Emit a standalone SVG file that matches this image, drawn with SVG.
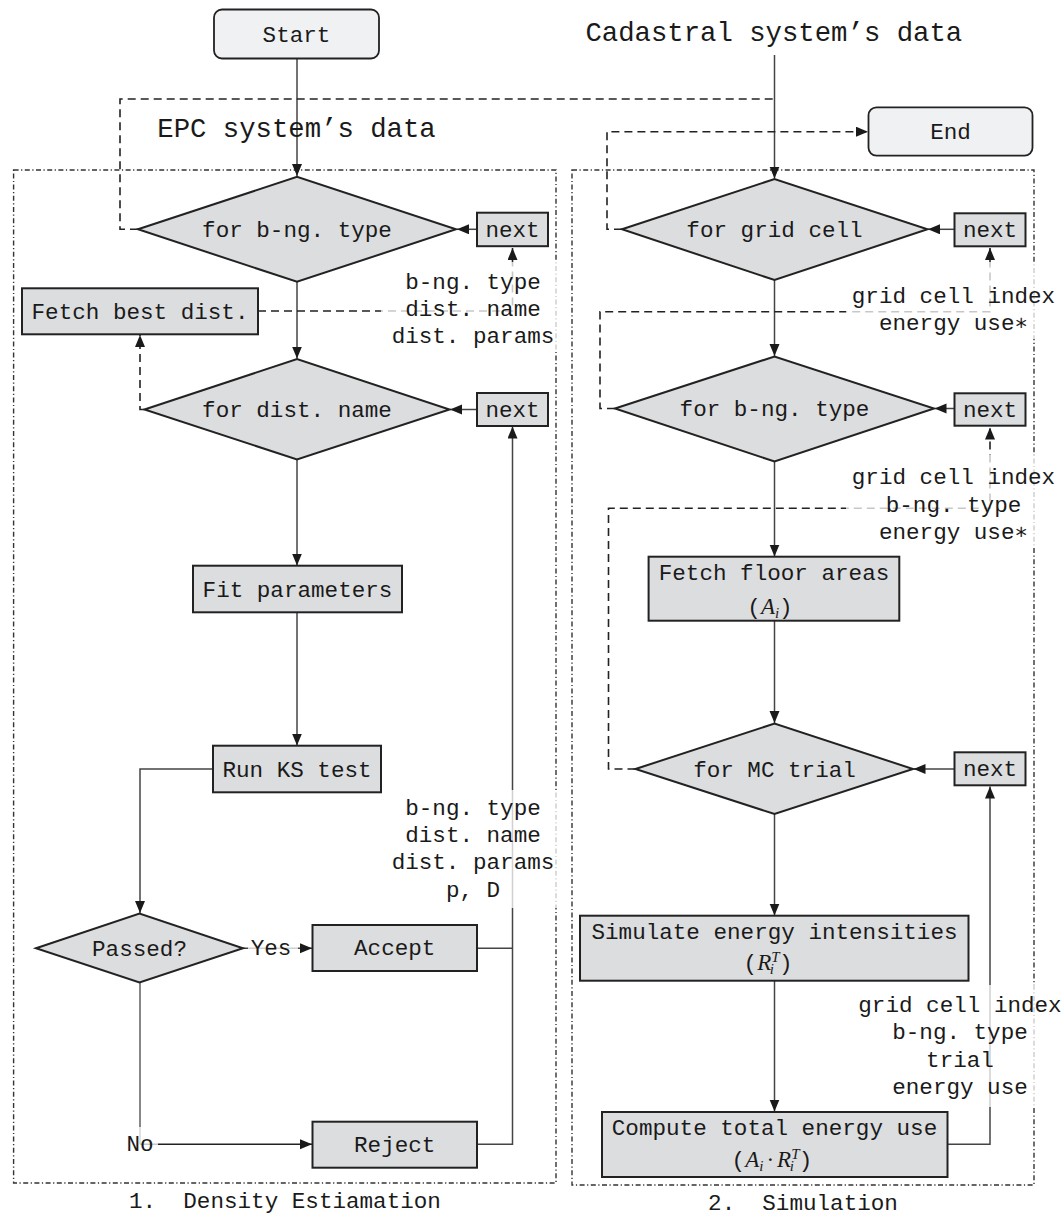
<svg xmlns="http://www.w3.org/2000/svg" width="1064" height="1215" viewBox="0 0 1064 1215">
<defs>
<style>
.t{font-family:"Liberation Mono","DejaVu Sans Mono",monospace;font-size:22.6px;fill:#1a1a1a;text-anchor:middle}
.title{font-family:"Liberation Mono","DejaVu Sans Mono",monospace;font-size:27.3px;fill:#1a1a1a;text-anchor:middle}
.m{font-family:"Liberation Serif","DejaVu Serif",serif;font-style:italic;font-size:23px}
.ms{font-family:"Liberation Serif","DejaVu Serif",serif;font-style:italic;font-size:15px}
.mo{font-family:"Liberation Serif","DejaVu Serif",serif;font-size:23px}
.box{fill:#dcdddf;stroke:#222;stroke-width:2}
.term{fill:#f0f1f3;stroke:#222;stroke-width:1.8}
.cont{fill:none;stroke:#333;stroke-width:1.4;stroke-dasharray:5 2.5 1.2 2.5}
.flow{fill:none;stroke:#444;stroke-width:1.5}
.dash{fill:none;stroke:#222;stroke-width:1.6;stroke-dasharray:8 5}
.lbg{fill:#fff;fill-opacity:0.75}
</style>
<marker id="ah" markerUnits="userSpaceOnUse" markerWidth="13" markerHeight="11" refX="12" refY="5" orient="auto">
<path d="M0,0 L12,5 L0,10 z" fill="#1a1a1a"/>
</marker>
</defs>
<rect width="1064" height="1215" fill="#fff"/>

<g id="containers">
<rect class="cont" x="13.6" y="170" width="542.4" height="1013"/>
<rect class="cont" x="572" y="170" width="462" height="1015"/>
</g>

<g id="connectors">
<path class="flow" d="M297,58.5 V176" marker-end="url(#ah)"/>
<path class="flow" d="M774.5,55 V178.5" marker-end="url(#ah)"/>
<path class="flow" d="M477,229.3 H457" marker-end="url(#ah)"/>
<path class="flow" d="M297,281.8 V358.5" marker-end="url(#ah)"/>
<path class="flow" d="M477,409.5 H450" marker-end="url(#ah)"/>
<path class="flow" d="M297,459.5 V565.5" marker-end="url(#ah)"/>
<path class="flow" d="M297,612.3 V745.5" marker-end="url(#ah)"/>
<path class="flow" d="M213,769 H140 V913" marker-end="url(#ah)"/>
<path class="flow" d="M243,948.3 H312" marker-end="url(#ah)"/>
<path class="flow" style="stroke:#888;stroke-width:2" d="M140,982.5 V1144.3"/>
<path class="flow" style="stroke:#222" d="M140,1144.3 H312" marker-end="url(#ah)"/>
<path class="flow" d="M477,948.3 H512.5"/>
<path class="flow" d="M477,1144.3 H512.5 V426.5" marker-end="url(#ah)"/>
<path class="flow" d="M954.5,229.3 H928" marker-end="url(#ah)"/>
<path class="flow" d="M774.5,280 V356" marker-end="url(#ah)"/>
<path class="flow" d="M954.5,408.5 H934.5" marker-end="url(#ah)"/>
<path class="flow" d="M774.5,461.5 V556.5" marker-end="url(#ah)"/>
<path class="flow" d="M774.5,620.7 V723" marker-end="url(#ah)"/>
<path class="flow" d="M954.5,769 H913.5" marker-end="url(#ah)"/>
<path class="flow" d="M774.5,814 V915.5" marker-end="url(#ah)"/>
<path class="flow" d="M774.5,980.7 V1111.5" marker-end="url(#ah)"/>
<path class="flow" d="M947.5,1144.3 H990 V786.5" marker-end="url(#ah)"/>
<path class="dash" d="M138,229.3 H120 V99 H774.5"/>
<path class="dash" d="M622,229.3 H607 V131.7 H868" marker-end="url(#ah)"/>
<path class="dash" d="M258,311 H512.5 V248" marker-end="url(#ah)"/>
<path class="dash" d="M144.5,409.5 H140 V335" marker-end="url(#ah)"/>
<path class="dash" d="M615,408.5 H600 V311.7 H990 V248" marker-end="url(#ah)"/>
<path class="dash" d="M635.5,769 H608.5 V508.3 H990 V427.5" marker-end="url(#ah)"/>
</g>

<g id="labels">
<rect class="lbg" x="381" y="262" width="181" height="88"/>
<text class="t" x="473" y="289">b-ng. type</text>
<text class="t" x="473" y="316">dist. name</text>
<text class="t" x="473" y="343">dist. params</text>
<rect class="lbg" x="384" y="790" width="178" height="118"/>
<text class="t" x="473" y="815">b-ng. type</text>
<text class="t" x="473" y="842">dist. name</text>
<text class="t" x="473" y="869">dist. params</text>
<text class="t" x="473" y="897">p, D</text>
<rect class="lbg" x="248" y="932" width="50" height="28"/>
<text class="t" x="271" y="955">Yes</text>
<rect class="lbg" x="124" y="1127" width="34" height="28"/>
<text class="t" x="140" y="1151">No</text>
<rect class="lbg" x="846" y="262" width="216" height="77"/>
<text class="t" x="953.5" y="303">grid cell index</text>
<text class="t" x="953.5" y="330">energy use∗</text>
<rect class="lbg" x="846" y="455" width="216" height="93"/>
<text class="t" x="953.5" y="484">grid cell index</text>
<text class="t" x="953.5" y="511.7">b-ng. type</text>
<text class="t" x="953.5" y="539.3">energy use∗</text>
<rect class="lbg" x="852" y="985" width="212" height="122"/>
<text class="t" x="960" y="1011.7">grid cell index</text>
<text class="t" x="960" y="1039.3">b-ng. type</text>
<text class="t" x="960" y="1066.7">trial</text>
<text class="t" x="960" y="1094.3">energy use</text>
<text class="title" x="296.5" y="137.3">EPC system’s data</text>
<text class="title" x="773.8" y="40.7">Cadastral system’s data</text>
<text class="t" x="285" y="1208" xml:space="preserve">1.  Density Estiamation</text>
<text class="t" x="803" y="1210" xml:space="preserve">2.  Simulation</text>
</g>

<g id="start">
<rect class="term" x="214" y="9.5" width="165" height="49" rx="8"/>
<text class="t" x="296.5" y="41.5">Start</text>
</g>
<g id="end">
<rect class="term" x="868.5" y="107.3" width="164" height="48.4" rx="8"/>
<text class="t" x="950.5" y="139.3">End</text>
</g>

<g id="for-bng-type-1">
<polygon class="box" points="138,229.3 297,176.8 456,229.3 297,281.8"/>
<text class="t" x="297" y="237">for b-ng. type</text>
</g>
<g id="next-1">
<rect class="box" x="477" y="212.7" width="71" height="33.5"/>
<text class="t" x="512.5" y="236.5">next</text>
</g>
<g id="fetch-best-dist">
<rect class="box" x="22" y="288.3" width="236" height="46"/>
<text class="t" x="140" y="319">Fetch best dist.</text>
</g>
<g id="for-dist-name">
<polygon class="box" points="144.5,409.5 297,359 449.5,409.5 297,459.5"/>
<text class="t" x="297" y="417">for dist. name</text>
</g>
<g id="next-2">
<rect class="box" x="477" y="393" width="71" height="33"/>
<text class="t" x="512.5" y="416.5">next</text>
</g>
<g id="fit-parameters">
<rect class="box" x="193" y="565.7" width="209" height="46.6"/>
<text class="t" x="297.5" y="596.5">Fit parameters</text>
</g>
<g id="run-ks-test">
<rect class="box" x="213" y="745.7" width="168" height="46.6"/>
<text class="t" x="297" y="776.7">Run KS test</text>
</g>
<g id="passed">
<polygon class="box" points="36,948.3 139.5,913.5 243,948.3 139.5,982.5"/>
<text class="t" x="139.5" y="956">Passed?</text>
</g>
<g id="accept">
<rect class="box" x="312.5" y="925" width="164.5" height="46"/>
<text class="t" x="394.7" y="955">Accept</text>
</g>
<g id="reject">
<rect class="box" x="312.5" y="1121.7" width="164.5" height="46"/>
<text class="t" x="394.7" y="1151.5">Reject</text>
</g>

<g id="for-grid-cell">
<polygon class="box" points="622,229.3 774.5,179 927.5,229.3 774.5,280"/>
<text class="t" x="774.5" y="237">for grid cell</text>
</g>
<g id="next-3">
<rect class="box" x="954.5" y="213.3" width="71" height="33"/>
<text class="t" x="990" y="236.5">next</text>
</g>
<g id="for-bng-type-2">
<polygon class="box" points="615,408.5 774.5,356.5 934,408.5 774.5,461.5"/>
<text class="t" x="774.5" y="416">for b-ng. type</text>
</g>
<g id="next-4">
<rect class="box" x="954.5" y="393.3" width="71" height="32.4"/>
<text class="t" x="990" y="416.5">next</text>
</g>
<g id="fetch-floor-areas">
<rect class="box" x="648.6" y="556.7" width="250.7" height="64"/>
<text class="t" x="774" y="580">Fetch floor areas</text>
<text class="t" x="770" y="614">(<tspan class="m">A</tspan><tspan class="ms" dy="4">i</tspan><tspan dy="-4">)</tspan></text>
</g>
<g id="for-mc-trial">
<polygon class="box" points="635.5,769 774.5,723.5 913,769 774.5,814"/>
<text class="t" x="774.5" y="776.5">for MC trial</text>
</g>
<g id="next-5">
<rect class="box" x="954.5" y="752.3" width="71" height="33"/>
<text class="t" x="990" y="776">next</text>
</g>
<g id="simulate">
<rect class="box" x="580" y="915.7" width="388.5" height="65"/>
<text class="t" x="774.5" y="938.5">Simulate energy intensities</text>
<text class="t" x="768" y="970">(<tspan class="m">R</tspan><tspan class="ms" dy="-8">T</tspan><tspan class="ms" dx="-9" dy="12">i</tspan><tspan dx="5" dy="-4">)</tspan></text>
</g>
<g id="compute">
<rect class="box" x="602" y="1112" width="345.5" height="65"/>
<text class="t" x="774.5" y="1134.5">Compute total energy use</text>
<text class="t" x="772" y="1167">(<tspan class="m">A</tspan><tspan class="ms" dy="4">i</tspan><tspan class="mo" dx="3" dy="-4">·</tspan><tspan class="m" dx="3">R</tspan><tspan class="ms" dy="-8">T</tspan><tspan class="ms" dx="-9" dy="12">i</tspan><tspan dx="5" dy="-4">)</tspan></text>
</g>
</svg>
